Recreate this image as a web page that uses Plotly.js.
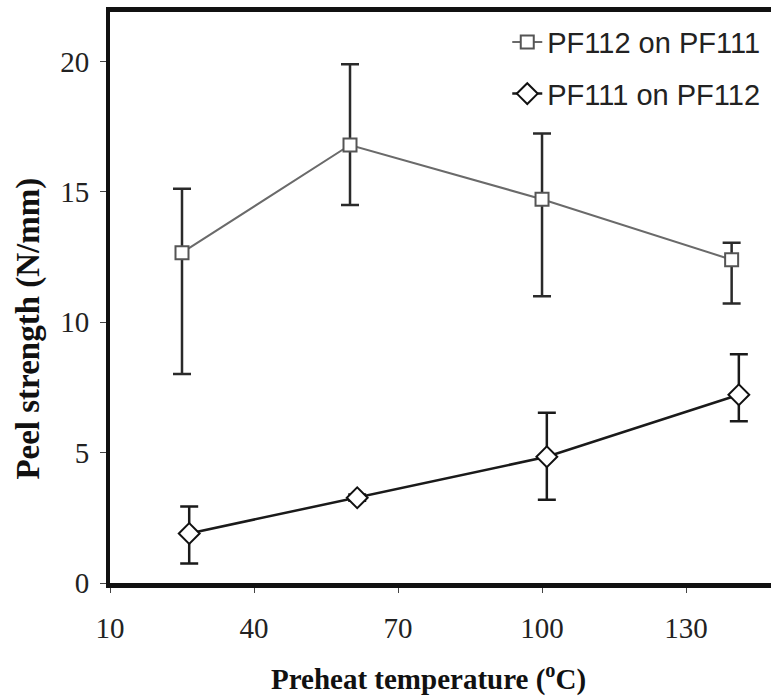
<!DOCTYPE html>
<html><head><meta charset="utf-8">
<script src="https://cdn.plot.ly/plotly-3.0.1.min.js"></script>
<style>html,body{margin:0;padding:0;background:#fff}#chart{width:771px;height:696px}</style>
</head><body><div id="chart"></div>
<script>
// Series 1: PF112 on PF111 (squares)
const xSquare = [25, 60, 100, 139.5];
const ySquare = [12.67, 16.8, 14.72, 12.4];
const errSquarePlus = [2.45, 3.1, 2.52, 0.65];
const errSquareMinus = [4.65, 2.3, 3.72, 1.68];
// Series 2: PF111 on PF112 (diamonds)
const xDiamond = [26.5, 61.5, 101, 141];
const yDiamond = [1.9, 3.27, 4.84, 7.22];
const errDiamondPlus = [1.03, 0.12, 1.69, 1.55];
const errDiamondMinus = [1.15, 0.12, 1.65, 1.02];
const xTicks = [10, 40, 70, 100, 130];
const yTicks = [0, 5, 10, 15, 20];
const xTitle = 'Preheat temperature (<sup>o</sup>C)';
const yTitle = 'Peel strength (N/mm)';

const serif = 'Liberation Serif, Times New Roman, serif';
const sans = 'Liberation Sans, Arial, sans-serif';

const traces = [
  {x: xSquare, y: ySquare, name: 'PF112 on PF111', type: 'scatter', mode: 'lines+markers',
   legendgroup: 'a',
   line: {color: '#6a6a6a', width: 2},
   marker: {symbol: 'square', size: 13, color: '#ffffff', line: {color: '#555', width: 2}},
   error_y: {type: 'data', symmetric: false, array: errSquarePlus, arrayminus: errSquareMinus,
             color: '#2a2a2a', thickness: 2.5, width: 9}},
  {x: xDiamond, y: yDiamond, name: 'PF111 on PF112', type: 'scatter', mode: 'lines+markers',
   legendgroup: 'b',
   line: {color: '#1a1a1a', width: 2.5},
   marker: {symbol: 'diamond', size: 16, color: '#ffffff', line: {color: '#111', width: 2}},
   error_y: {type: 'data', symmetric: false, array: errDiamondPlus, arrayminus: errDiamondMinus,
             color: '#1a1a1a', thickness: 2.5, width: 9}}
];

const layout = {
  width: 771, height: 696,
  margin: {l: 110, r: 0, t: 12, b: 113},
  paper_bgcolor: '#fff', plot_bgcolor: '#fff',
  showlegend: true,
  legend: {x: 0.601, y: 0.992, xanchor: 'left', yanchor: 'top', bgcolor: 'rgba(0,0,0,0)',
           font: {family: sans, size: 29, color: '#222'},
           traceorder: 'grouped', tracegroupgap: 11},
  xaxis: {range: [10, 147.7], tickvals: xTicks, ticktext: xTicks.map(String),
          showgrid: false, zeroline: false, showline: true, linecolor: '#111', linewidth: 5,
          mirror: true, ticks: 'outside', ticklen: 5, tickcolor: '#444', tickwidth: 1,
          ticklabelstandoff: 10,
          tickfont: {family: serif, size: 29, color: '#222'}},
  yaxis: {range: [0, 21.9], tickvals: yTicks, ticktext: yTicks.map(String),
          showgrid: false, zeroline: false, showline: true, linecolor: '#111', linewidth: 4,
          ticks: 'outside', ticklen: 6, tickcolor: '#444', tickwidth: 1,
          ticklabelstandoff: 5,
          tickfont: {family: serif, size: 29, color: '#222'}},
  annotations: [
    {text: xTitle, xref: 'paper', yref: 'paper', x: 0.482, y: -0.165, xanchor: 'center', yanchor: 'middle',
     showarrow: false, font: {family: serif, size: 29, color: '#111', weight: 'bold'}},
    {text: yTitle, xref: 'paper', yref: 'paper', x: -0.123, y: 0.445, xanchor: 'center', yanchor: 'middle',
     textangle: -90, showarrow: false, font: {family: serif, size: 33, color: '#111', weight: 'bold'}}
  ]
};

Plotly.newPlot('chart', traces, layout, {displayModeBar: false, staticPlot: true});
</script></body></html>
